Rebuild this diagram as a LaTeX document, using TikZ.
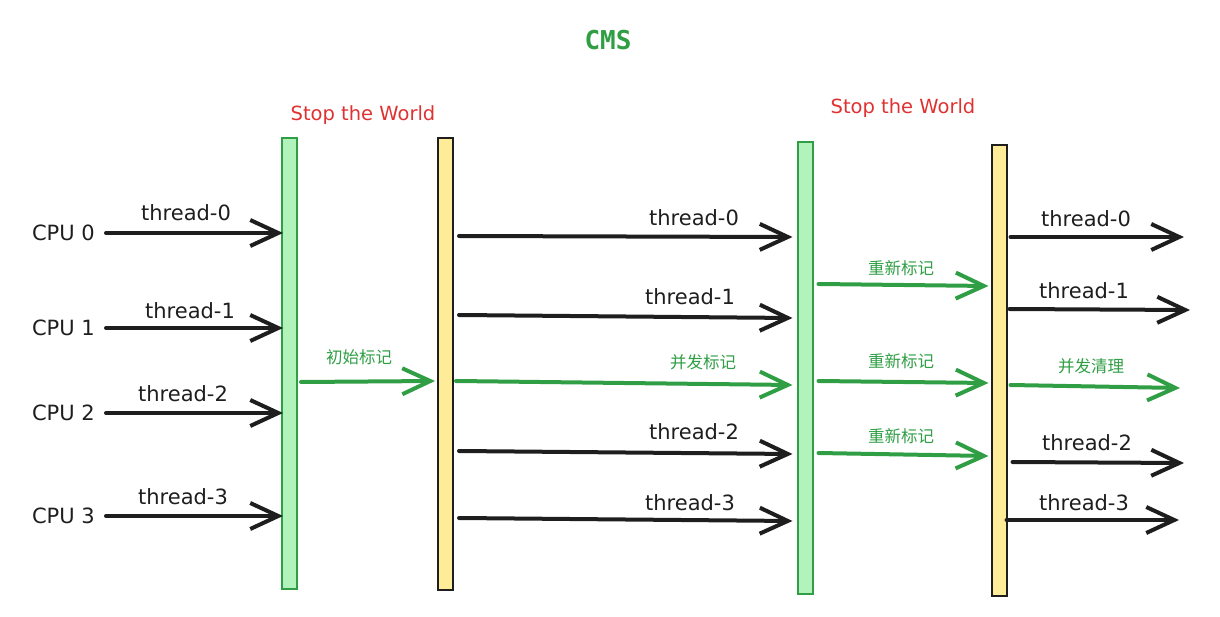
\documentclass[tikz,border=0pt]{standalone}
\usepackage{fontspec}
\setmainfont{DejaVu Sans}
\setmonofont{DejaVu Sans Mono}
\newfontfamily\cjk{Noto Sans CJK SC}
\usetikzlibrary{arrows.meta,calc}
\definecolor{exgreen}{HTML}{2F9E44}
\definecolor{exlgreen}{HTML}{B2F2BB}
\definecolor{exyellow}{HTML}{FFEC99}
\definecolor{exblack}{HTML}{1E1E1E}
\definecolor{exred}{HTML}{E03131}
\tikzset{
  gcbar/.style={draw=exgreen,fill=exlgreen,line width=2pt,minimum width=15pt,inner sep=0pt},
  ycbar/.style={draw=exblack,fill=exyellow,line width=2pt,minimum width=15pt,inner sep=0pt},
  thr/.style={exblack,line width=4pt,line cap=round,-{Straight Barb[length=28pt,width=26pt]}},
  gcarrow/.style={thr,exgreen},
  lbl/.style={font=\fontsize{21}{24}\selectfont,text=exblack,inner sep=0pt},
  cjklbl/.style={font=\cjk\fontsize{16.5}{19}\selectfont,text=exgreen,inner sep=0pt},
  stw/.style={font=\fontsize{19.5}{22}\selectfont,text=exred,inner sep=0pt}
}
\begin{document}
\begin{tikzpicture}[x=1pt,y=-1pt]
    \useasboundingbox (0,0) rectangle (1220,617);
    \node[font=\ttfamily\bfseries\fontsize{26}{30}\selectfont,text=exgreen] (title) at (608,40) {CMS};
    \node[stw] (stw1) at (363,115) {Stop the World};
    \node[stw] (stw2) at (903,108) {Stop the World};
    % bars
    \node[gcbar,minimum height=451pt] (b1) at (289.5,363.5) {};
    \node[ycbar,minimum height=452pt] (b2) at (445.5,364) {};
    \node[gcbar,minimum height=452pt] (b3) at (805,368) {};
    \node[ycbar,minimum height=451pt] (b4) at (999,370.5) {};
    % CPUs
    \foreach \i/\cy/\tx/\ty in {0/233/186/213, 1/328/190/311, 2/413/183/394, 3/516/183/497} {
        \node[lbl,anchor=east] (cpu\i) at (95,\cy) {CPU \i};
        \node[lbl] (lt\i) at (\tx,\ty) {thread-\i};
        \draw[thr] ([xshift=11pt]cpu\i.east) -- ($(b1.west |- cpu\i.east)+(2,0)$);
    }
    \node[cjklbl] (init) at (359,357) {初始标记};
    \draw[gcarrow] ($(b1.east |- 0,382)+(3,0)$) -- ($(b2.west |- 0,381)+(-2,0)$);
    % concurrent
    \foreach \i/\sy/\ey/\tx/\ty in {0/236/237/694/218, 1/315/318/690/297, 2/451/454/694/432, 3/518/521/690/503} {
        \node[lbl] (mt\i) at (\tx,\ty) {thread-\i};
        \draw[thr] ($(b2.east |- 0,\sy)+(5,0)$) -- ($(b3.west |- 0,\ey)+(-4,0)$);
    }
    \node[cjklbl] (conc) at (703,362) {并发标记};
    \draw[gcarrow] ($(b2.east |- 0,381)+(2,0)$) -- ($(b3.west |- 0,385)+(-4,0)$);
    % remark
    \foreach \i/\sy/\ey/\ty in {0/284/286/268, 1/381/383/361, 2/453/456/436} {
        \node[cjklbl] (re\i) at (901,\ty) {重新标记};
        \draw[gcarrow] ($(b3.east |- 0,\sy)+(5,0)$) -- ($(b4.west |- 0,\ey)+(-2,0)$);
    }
    % sweep
    \foreach \i/\sx/\sy/\ex/\ey/\tx/\ty in {0/3/237/1184/237/1086/219, 1/2/309/1190/310/1084/291, 2/5/462/1184/463/1087/443, 3/-1/520/1179/520/1084/503} {
        \coordinate (r\i) at (\ex,\ey);
        \node[lbl] (rt\i) at (\tx,\ty) {thread-\i};
        \draw[thr] ($(b4.east |- 0,\sy)+(\sx,0)$) -- (r\i);
    }
    \coordinate (rc) at (1180,388);
    \node[cjklbl] (sweep) at (1091,366) {并发清理};
    \draw[gcarrow] ($(b4.east |- 0,385)+(3,0)$) -- (rc);
\end{tikzpicture}
\end{document}
